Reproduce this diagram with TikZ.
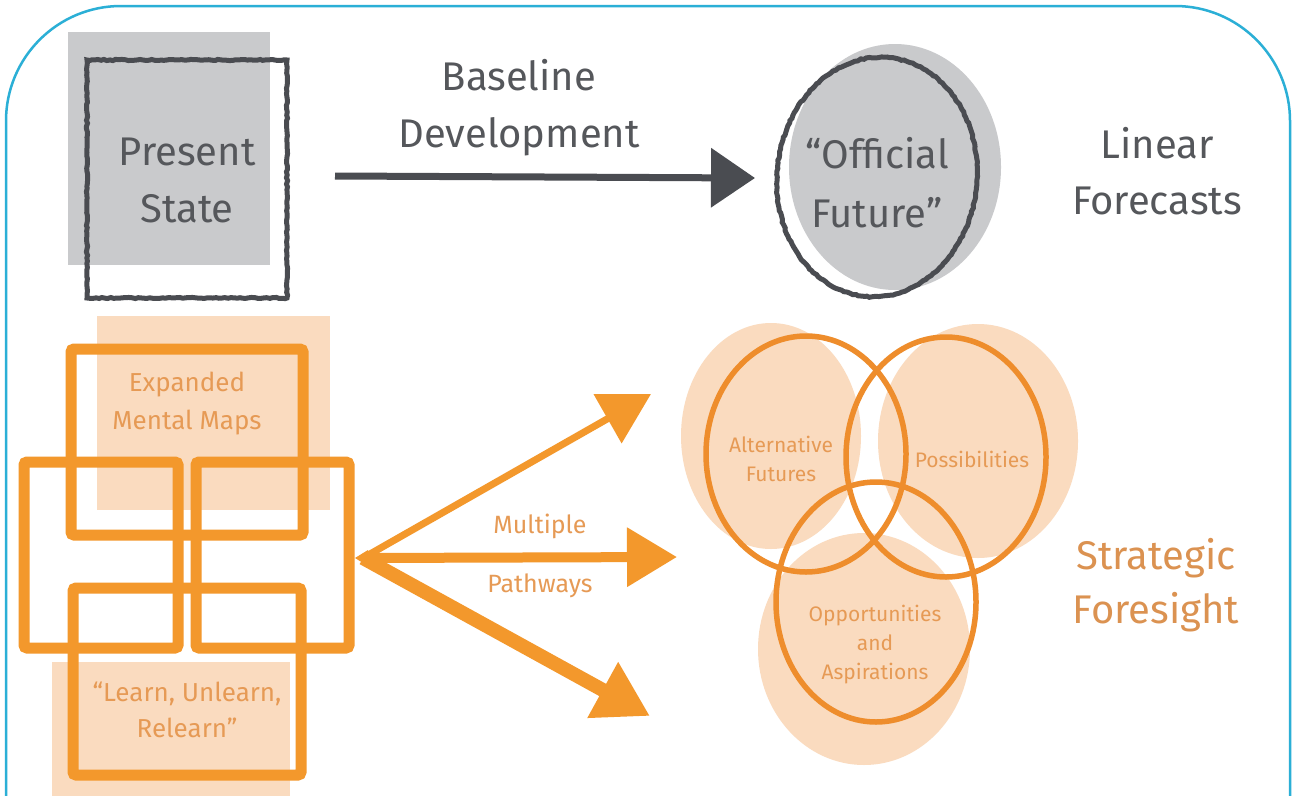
\documentclass[tikz,border=0pt]{standalone}
\usepackage{fontspec}
\setmainfont{Fira Sans}
\usetikzlibrary{arrows.meta,decorations.pathmorphing}
\definecolor{bluebd}{HTML}{2BAFD6}
\definecolor{graytxt}{HTML}{55575B}
\definecolor{grayfill}{HTML}{C9CACC}
\definecolor{graydark}{HTML}{4A4C51}
\definecolor{orng}{HTML}{F3982C}
\definecolor{orngring}{HTML}{EE8D2C}
\definecolor{peach}{HTML}{FADBBF}
\definecolor{orngtxt}{HTML}{E69A55}
\tikzset{
  bigtxt/.style={text=graytxt,align=center,inner sep=0pt,font=\fontsize{40}{57}\selectfont},
  boxtxt/.style={text=orngtxt,align=center,inner sep=0pt,font=\fontsize{26}{38}\selectfont},
  venntxt/.style={text=orngtxt,align=center,inner sep=0pt,font=\fontsize{21}{29}\selectfont},
  sftxt/.style={text=orngtxt!95!black,align=center,inner sep=0pt,font=\fontsize{40}{54}\selectfont},
  rough/.style={decorate,decoration={random steps,segment length=3pt,amplitude=0.6pt}},
  orsq/.style={draw=orng,line width=11pt,rounded corners=3pt},
  ring/.style={draw=orngring,line width=5.5pt},
}
\begin{document}
\begin{tikzpicture}[x=1pt,y=-1pt]
\useasboundingbox (0,0) rectangle (1297,795);
\fill[white] (0,0) rectangle (1297,795);
% blue frame
\draw[bluebd,line width=2.5pt,rounded corners=115pt] (6,850) -- (6,6) -- (1290,6) -- (1290,850);

% ---------- top row: linear forecasts ----------
\fill[grayfill] (68,32) rectangle (270,265);
\draw[graydark,line width=5pt,rough] (87,60) rectangle (287,298);
\node[bigtxt] (present) at (187,180) {Present\\State};

\node[bigtxt] (baseline) at (519,108) {Baseline\\Development};
\coordinate (gstart) at (335,176);
\coordinate (gend) at (755,178);
\draw[graydark,line width=7pt,-{Triangle[length=44pt,width=58pt]}] (gstart) -- (gend);

\fill[grayfill] (895,167) ellipse [x radius=106,y radius=123];
\draw[graydark,line width=5pt,rough,rotate around={-6:(877,177)}] (877,177) ellipse [x radius=100,y radius=120];
\node[bigtxt,font=\fontsize{40}{59}\selectfont] (official) at (877,183) {“Official\\Future”};

\node[bigtxt,font=\fontsize{40}{56}\selectfont] (linear) at (1157,171) {Linear\\Forecasts};

% ---------- bottom row: strategic foresight ----------
\fill[peach] (97,316) rectangle (330,510);
\fill[peach] (52,662) rectangle (290,800);
\draw[orsq] (71,349) rectangle (303,535);
\draw[orsq] (24,462) rectangle (178,648);
\draw[orsq] (196,462) rectangle (349,648);
\draw[orsq] (73,588) rectangle (301,775);
\node[boxtxt] (expanded) at (187,404) {Expanded\\Mental Maps};
\node[boxtxt,font=\fontsize{26}{36}\selectfont] (learn) at (187,710) {“Learn, Unlearn,\\Relearn”};

\coordinate (fan) at (363,558);
\coordinate (fanup) at (651,394);
\coordinate (fanmid) at (677,557);
\coordinate (fandown) at (650,716);
\draw[orng,line width=7pt,-{Triangle[length=50pt,width=55pt]}] (fan) -- (fanup);
\draw[orng,line width=10pt,-{Triangle[length=50pt,width=57pt]}] (fan) -- (fanmid);
\draw[orng,line width=14pt,-{Triangle[length=54pt,width=60pt]}] (fan) -- (fandown);
\fill[orng] (355,558) -- (368,550) -- (368,566) -- cycle;
\node[text=orngtxt,align=center,inner sep=0pt,font=\fontsize{25}{59}\selectfont] (multi) at (540,556) {Multiple\\Pathways};

\fill[peach] (771,436) ellipse [x radius=90,y radius=113];
\fill[peach] (978,441) ellipse [x radius=100,y radius=117];
\fill[peach] (864,649) ellipse [x radius=106,y radius=116];
\draw[ring] (806,454) ellipse [x radius=100,y radius=118];
\draw[ring] (946,457) ellipse [x radius=100,y radius=120];
\draw[ring] (876,602) ellipse [x radius=100,y radius=120];
\node[venntxt] (alt) at (781,459) {Alternative\\Futures};
\node[venntxt] (poss) at (972,459) {Possibilities};
\node[venntxt] (opp) at (875,645) {Opportunities\\and\\Aspirations};

\node[sftxt] (strat) at (1156,585) {Strategic\\Foresight};
\end{tikzpicture}
\end{document}
